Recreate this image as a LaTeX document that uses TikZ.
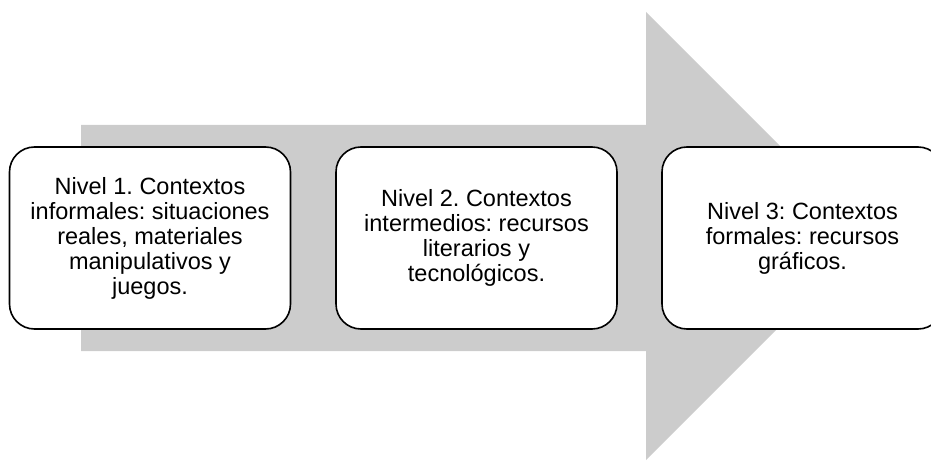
\documentclass[tikz,border=0pt]{standalone}
\usepackage{fontspec}
\setmainfont{Liberation Sans}
\frenchspacing
\definecolor{flecha}{RGB}{204,204,204}
\tikzset{
    nivel/.style={draw=black, line width=1.6pt, fill=white, rounded corners=25pt,
        minimum width=281pt, minimum height=182pt, align=center,
        font=\fontsize{23.5}{25}\selectfont}
}
\begin{document}
\begin{tikzpicture}[x=1pt,y=-1pt]
    \useasboundingbox (0,0) rectangle (931,462);

    % flecha de fondo
    \fill[flecha] (81,125) -- (646,125) -- (646,12) -- (870,236)
            -- (646,460) -- (646,351) -- (81,351) -- cycle;

    % niveles
    \node[nivel] (nivel1) at (150,238) {Nivel 1. Contextos\\informales: situaciones\\reales, materiales\\manipulativos y\\juegos.};
    \node[nivel] (nivel2) at (476.5,238) {Nivel 2. Contextos\\intermedios: recursos\\literarios y\\tecnológicos.};
    \node[nivel] (nivel3) at (802.5,238) {Nivel 3: Contextos\\formales: recursos\\gráficos.};
\end{tikzpicture}
\end{document}
